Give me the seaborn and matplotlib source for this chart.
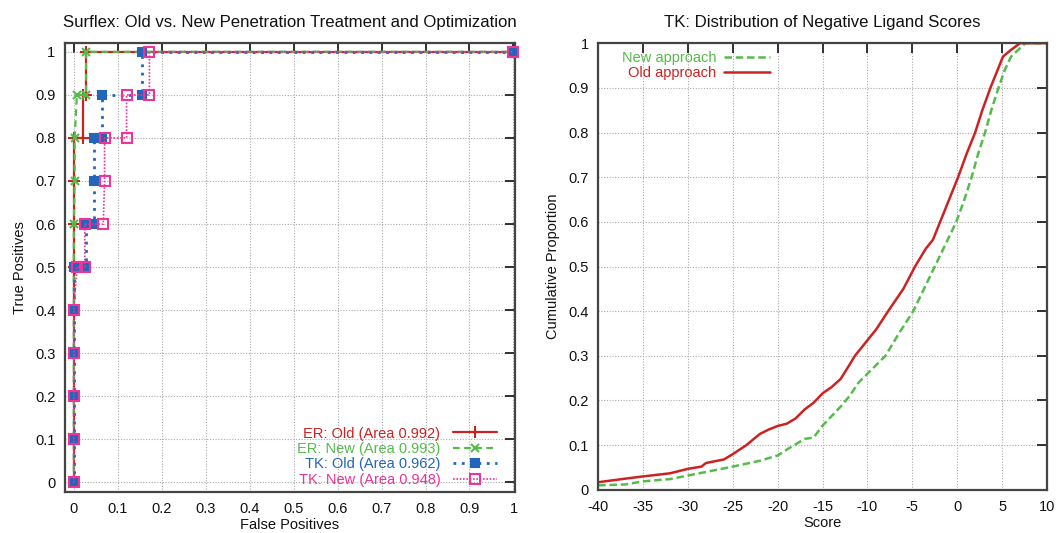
import numpy as np
import pandas as pd
import matplotlib
matplotlib.use("Agg")
import matplotlib.pyplot as plt
from matplotlib.ticker import FuncFormatter, MultipleLocator
import seaborn as sns

# ---------------- data: ROC curves (left panel) ----------------
er_old_fp = [0, 0, 0, 0, 0, 0, 0, 0, 0, 0.02, 0.02, 0.027, 0.027, 1.0]
er_old_tp = [0, 0.1, 0.2, 0.3, 0.4, 0.5, 0.6, 0.7, 0.8, 0.8, 0.9, 0.9, 1.0, 1.0]

er_new_fp = [0, 0, 0, 0, 0, 0, 0, 0.002, 0.002, 0.007, 0.028, 0.028, 1.0]
er_new_tp = [0, 0.1, 0.2, 0.3, 0.4, 0.5, 0.6, 0.7, 0.8, 0.9, 0.9, 1.0, 1.0]

tk_old_fp = [0, 0, 0, 0, 0, 0, 0.027, 0.027, 0.045, 0.045, 0.045, 0.055, 0.065, 0.065, 0.155, 0.155, 1.0]
tk_old_tp = [0, 0.1, 0.2, 0.3, 0.4, 0.5, 0.5, 0.6, 0.6, 0.7, 0.8, 0.8, 0.8, 0.9, 0.9, 1.0, 1.0]

tk_new_fp = [0, 0, 0, 0, 0, 0.007, 0.025, 0.025, 0.067, 0.07, 0.07, 0.12, 0.12, 0.172, 0.172, 1.0]
tk_new_tp = [0, 0.1, 0.2, 0.3, 0.4, 0.5, 0.5, 0.6, 0.6, 0.7, 0.8, 0.8, 0.9, 0.9, 1.0, 1.0]

roc_labels = ["ER: Old (Area 0.992)", "ER: New (Area 0.993)",
              "TK: Old (Area 0.962)", "TK: New (Area 0.948)"]

# ---------------- data: cumulative score distributions (right panel) ----------------
old_score = [-40, -37, -35, -32, -30, -28.5, -28, -26, -25, -23.5, -22, -21, -20, -19, -18,
             -17, -16, -15, -14, -13, -12, -11.4, -10, -9, -7.7, -6, -4.7, -3.5, -2.7, -1.9,
             -1, 0.1, 1, 2.0, 2.8, 3.7, 4.5, 5.1, 6, 7, 10]
old_prop = [0.017, 0.025, 0.030, 0.037, 0.047, 0.052, 0.060, 0.068, 0.080, 0.100, 0.125, 0.135,
            0.143, 0.148, 0.160, 0.180, 0.195, 0.216, 0.230, 0.248, 0.280, 0.300, 0.335, 0.360,
            0.400, 0.450, 0.500, 0.540, 0.560, 0.600, 0.645, 0.700, 0.750, 0.800, 0.850, 0.900,
            0.940, 0.970, 0.985, 1.0, 1.0]

new_score = [-40, -37, -35, -32, -30, -28, -25, -22, -20, -19, -18, -17, -16, -15, -14, -13,
             -12, -11, -10, -8, -6.5, -4.9, -3.7, -2.5, -1.3, -0.1, 0.8, 1.6, 2.3, 3.1, 3.8,
             4.6, 5.3, 6, 7.6, 10]
new_prop = [0.010, 0.012, 0.019, 0.024, 0.032, 0.040, 0.052, 0.065, 0.077, 0.090, 0.102, 0.114,
            0.117, 0.144, 0.165, 0.186, 0.210, 0.240, 0.260, 0.300, 0.350, 0.400, 0.450, 0.500,
            0.550, 0.600, 0.650, 0.700, 0.750, 0.800, 0.850, 0.900, 0.940, 0.970, 1.0, 1.0]

# ---------------- style ----------------
sns.set_style("white")
plt.rcParams["font.family"] = ["Liberation Sans", "DejaVu Sans"]
plt.rcParams["axes.unicode_minus"] = False

RED = "#cc2222"
GREEN = "#55bb4a"
BLUE = "#2266bb"
PINK = "#ee3399"
FRAME = "#444444"

fig = plt.figure(figsize=(10.57, 5.33), dpi=100)
axL = fig.add_axes([0.0615, 0.077, 0.4255, 0.842])
axR = fig.add_axes([0.566, 0.081, 0.4245, 0.838])

fmt = FuncFormatter(lambda v, p: "%g" % round(v, 6))


def style_axes(ax):
    ax.grid(True, linestyle=(0, (1, 1.5)), color="#aaaaaa", linewidth=0.8)
    for s in ax.spines.values():
        s.set_color(FRAME)
        s.set_linewidth(1.6)
    ax.tick_params(direction="in", length=7, width=1.3, color="#222222",
                   top=True, right=True, labelsize=10.5, pad=7, labelcolor="#111111")
    ax.yaxis.set_major_formatter(fmt)
    ax.xaxis.set_major_formatter(fmt)


# ---------------- left panel ----------------
series = [
    (er_old_fp, er_old_tp, RED, "-", "+", 1.6, 8, RED, 1.5, roc_labels[0]),
    (er_new_fp, er_new_tp, GREEN, (0, (3, 2)), "x", 1.6, 6, GREEN, 1.5, roc_labels[1]),
    (tk_old_fp, tk_old_tp, BLUE, (0, (1, 2)), "s", 2.0, 5.5, BLUE, 1.5, roc_labels[2]),
    (tk_new_fp, tk_new_tp, PINK, (0, (1, 1)), "s", 1.2, 7, "none", 1.5, roc_labels[3]),
]
for fp, tp, c, ls, mk, lw, ms, mfc, mew, lab in series:
    df = pd.DataFrame({"fp": fp, "tp": tp})
    sns.lineplot(data=df, x="fp", y="tp", ax=axL, sort=False, estimator=None,
                 color=c, linestyle=ls, linewidth=lw, marker=mk, markersize=ms,
                 markerfacecolor=mfc, markeredgecolor=c, markeredgewidth=mew,
                 label=lab, clip_on=False, zorder=3)

axL.set_xlim(-0.02, 1.003)
axL.set_ylim(-0.022, 1.02)
axL.xaxis.set_major_locator(MultipleLocator(0.1))
axL.yaxis.set_major_locator(MultipleLocator(0.1))
style_axes(axL)
axL.set_title("Surflex: Old vs. New Penetration Treatment and Optimization",
              fontsize=12.1, pad=12, color="#111111")
axL.set_xlabel("False Positives", fontsize=10.5, labelpad=2, color="#111111")
axL.set_ylabel("True Positives", fontsize=10.5, labelpad=6, color="#111111")
legL = axL.legend(loc="lower right", frameon=False, markerfirst=False, numpoints=1,
                  labelcolor="linecolor", fontsize=10.5, handlelength=3.0,
                  handletextpad=0.9, labelspacing=0.1, borderaxespad=0.5,
                  bbox_to_anchor=(0.99, -0.018))

# ---------------- right panel ----------------
df_new = pd.DataFrame({"score": new_score, "prop": new_prop})
df_old = pd.DataFrame({"score": old_score, "prop": old_prop})
sns.lineplot(data=df_new, x="score", y="prop", ax=axR, sort=False, estimator=None,
             color=GREEN, linestyle=(0, (3, 1.5)), linewidth=1.8, label="New approach")
sns.lineplot(data=df_old, x="score", y="prop", ax=axR, sort=False, estimator=None,
             color=RED, linestyle="-", linewidth=1.8, label="Old approach")
axR.set_xlim(-40, 10)
axR.set_ylim(0, 1)
axR.xaxis.set_major_locator(MultipleLocator(5))
axR.yaxis.set_major_locator(MultipleLocator(0.1))
style_axes(axR)
axR.set_title("TK: Distribution of Negative Ligand Scores", fontsize=12.1, pad=12,
              color="#111111")
axR.set_xlabel("Score", fontsize=10.5, labelpad=2, color="#111111")
axR.set_ylabel("Cumulative Proportion", fontsize=10.5, labelpad=6, color="#111111")
legR = axR.legend(loc="upper left", frameon=False, markerfirst=False,
                  labelcolor="linecolor", fontsize=10.5, handlelength=3.2,
                  handletextpad=0.5, labelspacing=0.05, borderaxespad=0.3,
                  bbox_to_anchor=(0.03, 1.005))

fig.savefig("out.png", dpi=100, facecolor="white")
